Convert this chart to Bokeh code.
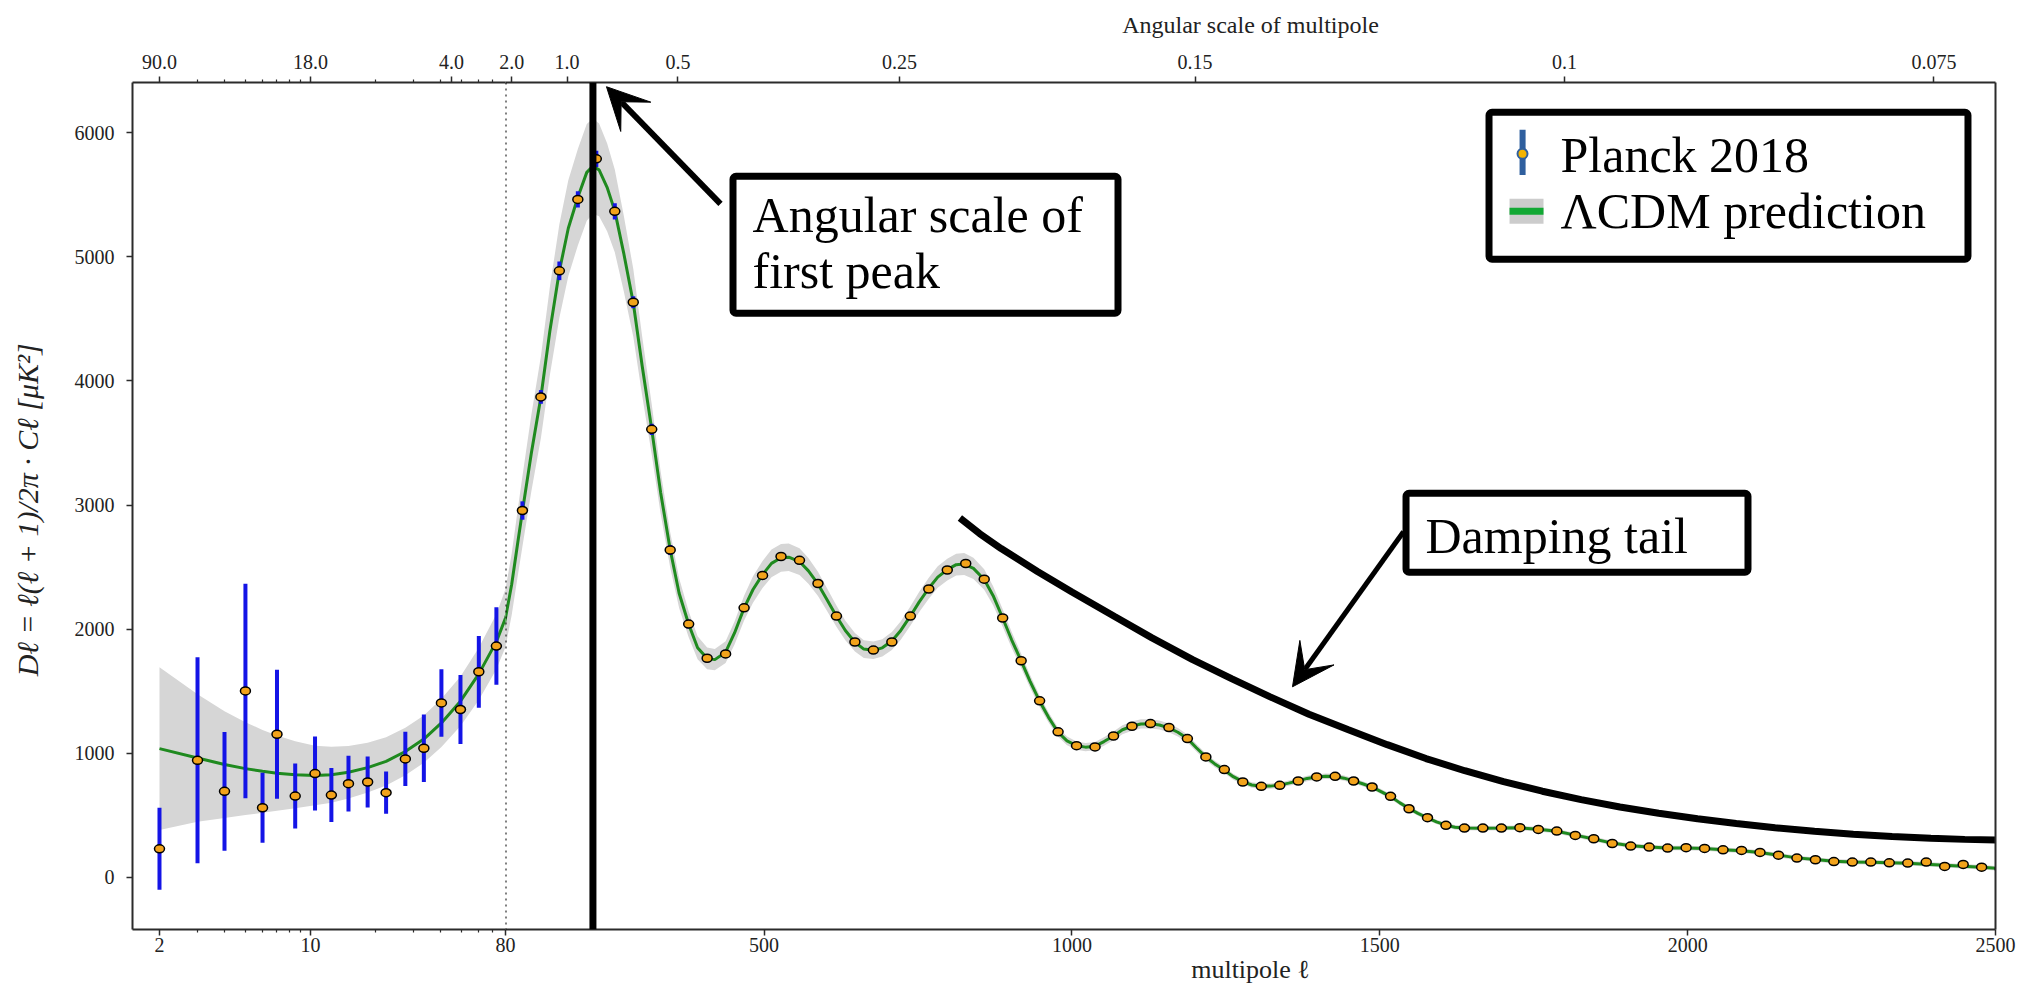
import numpy as np
from bokeh.plotting import figure
from bokeh.core.properties import value
from bokeh.models import (Range1d, FixedTicker, LinearAxis, LogAxis, Span,
                          Arrow, VeeHead, BoxAnnotation)
from bokeh.layouts import row
from bokeh.embed import file_html
from bokeh.resources import INLINE

FONT = "Liberation Serif"

# ---------------- data ----------------
lowl_ell = [2, 3, 4, 5, 6, 7, 8.5, 10.5, 12.5, 15.0, 18.4, 22.4, 27.5, 33.5, 40.4, 49.5, 60.2, 72.6]
lowl_dl = [231, 944, 694, 1503, 562, 1154, 656, 837, 664, 756, 769, 683, 955, 1041, 1406, 1353, 1657, 1864]
lowl_err = [330, 830, 478, 864, 282, 520, 262, 298, 218, 225, 205, 170, 218, 272, 272, 278, 289, 312]

highl_ell = [107.5, 137.5, 167.5, 197.5, 227.5, 257.5, 287.5, 317.5, 347.5, 377.5,
             407.5, 437.5, 467.5, 497.5, 527.5, 557.5, 587.5, 617.5, 647.5, 677.5,
             707.5, 737.5, 767.5, 797.5, 827.5, 857.5, 887.5, 917.5, 947.5, 977.5,
             1007.5, 1037.5, 1067.5, 1097.5, 1127.5, 1157.5, 1187.5, 1217.5, 1247.5, 1277.5,
             1307.5, 1337.5, 1367.5, 1397.5, 1427.5, 1457.5, 1487.5, 1517.5, 1547.5, 1577.5,
             1607.5, 1637.5, 1667.5, 1697.5, 1727.5, 1757.5, 1787.5, 1817.5, 1847.5, 1877.5,
             1907.5, 1937.5, 1967.5, 1997.5, 2027.5, 2057.5, 2087.5, 2117.5, 2147.5, 2177.5,
             2207.5, 2237.5, 2267.5, 2297.5, 2327.5, 2357.5, 2387.5, 2417.5, 2447.5, 2477.5,
             2507.5]
highl_dl = [2956, 3871, 4887, 5462, 5789, 5366, 4634, 3610, 2638, 2041,
            1766, 1801, 2172, 2433, 2586, 2555, 2368, 2106, 1897, 1832,
            1897, 2106, 2324, 2477, 2529, 2403, 2090, 1746, 1423, 1173,
            1062, 1052, 1140, 1218, 1240, 1208, 1119, 971, 869, 769,
            734, 742, 777, 810, 815, 777, 729, 654, 554, 482,
            420, 398, 398, 398, 401, 387, 374, 339, 312, 274,
            253, 245, 237, 240, 234, 223, 218, 202, 180, 156,
            143, 128, 124, 124, 118, 116, 124, 89, 105, 83,
            70]
highl_err = [74, 55, 75, 65, 65, 65, 48, 45, 40, 35,
             33, 33, 33, 33, 33, 33, 32, 30, 30, 30,
             30, 30, 30, 30, 30, 30, 28, 26, 24, 22,
             20, 20, 20, 20, 20, 20, 19, 18, 17, 16,
             16, 16, 16, 16, 16, 16, 16, 15, 15, 15,
             15, 15, 15, 15, 15, 15, 15, 15, 15, 15,
             15, 15, 15, 15, 16, 16, 16, 17, 17, 18,
             18, 19, 19, 20, 20, 21, 22, 23, 24, 25,
             26]

model_ell = [2, 3, 4, 5, 6, 7, 8.5, 10.5, 12.5, 15, 18.4, 22.4, 27.5, 33.5, 40.4, 49.5, 60.2, 72.6,
             80, 90, 100, 107.5, 122, 137.5, 152, 167.5, 182, 197.5, 212, 222, 232, 245, 257.5,
             272, 287.5, 302, 317.5, 332, 347.5, 362, 377.5, 392, 407.5, 420, 437.5, 452, 467.5,
             482, 497.5, 512, 527.5, 540, 557.5, 572, 587.5, 602, 617.5, 632, 647.5, 662, 677.5,
             692, 707.5, 722, 737.5, 752, 767.5, 782, 797.5, 812, 825, 840, 857.5, 872, 887.5,
             902, 917.5, 932, 947.5, 962, 977.5, 992, 1007.5, 1022, 1037.5, 1052, 1067.5, 1082,
             1097.5, 1112, 1127.5, 1142, 1157.5, 1172, 1187.5, 1202, 1217.5, 1232, 1247.5, 1262,
             1277.5, 1292, 1307.5, 1322, 1337.5, 1352, 1367.5, 1382, 1397.5, 1412, 1427.5, 1442,
             1457.5, 1472, 1487.5, 1502, 1517.5, 1532, 1547.5, 1562, 1577.5, 1592, 1607.5, 1622,
             1637.5, 1667.5, 1697.5, 1727.5, 1757.5, 1787.5, 1817.5, 1847.5, 1877.5, 1907.5,
             1937.5, 1967.5, 1997.5, 2027.5, 2057.5, 2087.5, 2117.5, 2147.5, 2177.5, 2207.5,
             2237.5, 2267.5, 2297.5, 2327.5, 2357.5, 2387.5, 2417.5, 2447.5, 2477.5, 2510]
model_dl = [1038, 962, 910, 877, 855, 840, 828, 822, 828, 848, 885, 935, 1015, 1115, 1245, 1420, 1640, 1900,
            2090, 2360, 2700, 2950, 3420, 3870, 4400, 4885, 5230, 5480, 5680, 5730, 5700, 5560, 5370,
            5030, 4630, 4120, 3610, 3100, 2640, 2290, 2040, 1850, 1765, 1755, 1815, 1970, 2170,
            2320, 2440, 2530, 2575, 2580, 2545, 2470, 2365, 2240, 2105, 1990, 1895, 1840, 1830,
            1850, 1905, 1990, 2105, 2220, 2330, 2420, 2480, 2520, 2525, 2490, 2400, 2270, 2090,
            1915, 1745, 1580, 1420, 1290, 1170, 1100, 1062, 1050, 1058, 1095, 1140, 1190,
            1220, 1237, 1238, 1228, 1205, 1170, 1119, 1045, 971, 915, 865, 812,
            772, 745, 735, 736, 744, 760, 778, 798, 810, 816, 814, 800,
            778, 755, 728, 692, 652, 603, 556, 516, 480, 448, 422, 405,
            399, 397, 398, 400, 388, 372, 341, 310, 277, 255,
            245, 238, 238, 233, 224, 216, 201, 180, 158, 144,
            131, 125, 122, 118, 114, 107, 98, 91, 82, 72]
model_hw = [655, 514, 430, 374, 334, 303, 270, 240, 225, 212, 200, 195, 192, 190, 194, 200, 210, 222,
            233, 248, 268, 283, 308, 329, 355, 377, 386, 389, 390, 384, 374, 355, 334,
            305, 273, 237, 203, 170, 142, 120, 105, 93, 87, 85, 87, 93, 100,
            106, 109, 112, 112, 111, 108, 103, 98, 91, 85, 79, 74, 72, 70,
            70, 72, 74, 77, 81, 84, 87, 88, 88, 88, 86, 82, 77, 70,
            64, 58, 52, 46, 42, 37, 35, 33, 33, 33, 34, 35, 36,
            37, 37, 37, 36, 35, 34, 32, 30, 28, 26, 25, 24,
            23, 22, 22, 22, 22, 22, 22, 22, 22, 22, 22, 21,
            21, 20, 20, 20, 20, 19, 19, 19, 18, 18, 18, 18,
            18, 18, 18, 18, 18, 18, 18, 18, 18, 18,
            18, 18, 18, 18, 18, 18, 18, 18, 18, 18,
            18, 18, 18, 18, 18, 18, 18, 18, 18, 18]

# axis ticks
lowl_ticks = [2, 10, 80]
lowl_minor = [3, 4, 5, 6, 7, 8, 9, 20, 30, 40, 50, 60, 70]
highl_ticks = [500, 1000, 1500, 2000, 2500]
y_ticks = [0, 1000, 2000, 3000, 4000, 5000, 6000]
ang_low_ell = [2, 10, 45]
ang_low_lab = ["90.0", "18.0", "4.0"]
ang_high_ell = [90, 180, 360, 720, 1200, 1800, 2400]
ang_high_lab = ["2.0", "1.0", "0.5", "0.25", "0.15", "0.1", "0.075"]

# annotation anchors (data units)
split_ell = 80
first_peak_ell = 222
damp_ell = [818, 850, 885, 944, 1000, 1070, 1130, 1196, 1260, 1322, 1385, 1449, 1512, 1575, 1638,
            1701, 1764, 1827, 1890, 1953, 2016, 2079, 2142, 2206, 2269, 2332, 2395, 2450, 2510]
damp_dl = [2895, 2770, 2650, 2465, 2300, 2100, 1930, 1755, 1600, 1455, 1315, 1190, 1070, 958, 860,
           772, 695, 627, 568, 518, 473, 435, 400, 372, 349, 330, 316, 307, 301]
note_text = ["Angular scale of", "first peak", "Damping tail", "Planck 2018", "ΛCDM prediction"]
note_x = [481.2, 481.2, 1574.2, 1793.5, 1793.5]
note_y = [5333, 4882, 2748, 5817, 5365]

# ---------------- styling helpers ----------------
AX = "#2b2b2b"


def style_axis(ax, label_size="20px"):
    ax.axis_line_color = AX
    ax.axis_line_width = 2
    ax.major_tick_line_color = AX
    ax.minor_tick_line_color = AX
    ax.major_tick_line_width = 1.5
    ax.minor_tick_line_width = 1.2
    ax.major_tick_in = 0
    ax.major_tick_out = 6
    ax.minor_tick_in = 0
    ax.minor_tick_out = 3
    ax.major_label_text_font = FONT
    ax.major_label_text_font_size = label_size
    ax.major_label_text_color = "#222222"
    ax.axis_label_text_font = FONT
    ax.axis_label_text_font_style = "normal"
    ax.axis_label_text_color = "#222222"


y_range = Range1d(-419, 6404)
common = dict(height=988, y_range=y_range, toolbar_location=None, output_backend="svg",
              x_axis_location=None, y_axis_location=None, min_border_top=82,
              min_border_bottom=59, outline_line_color=None,
              background_fill_color=None, border_fill_color=None)

# ---------------- left (log) panel ----------------
left = figure(width=525, x_axis_type="log", x_range=Range1d(1.5, split_ell),
              min_border_left=132, min_border_right=20, **common)
left.xgrid.visible = False
left.ygrid.visible = False

yax = LinearAxis(ticker=FixedTicker(ticks=y_ticks, minor_ticks=[]),
                 axis_label="Dℓ = ℓ(ℓ + 1)/2π · Cℓ  [μK²]")
style_axis(yax)
yax.major_label_standoff = 12
yax.axis_label_standoff = 28
yax.axis_label_text_font_size = "30px"
yax.axis_label_text_font_style = "italic"
left.add_layout(yax, "left")

bl = LogAxis(ticker=FixedTicker(ticks=lowl_ticks, minor_ticks=lowl_minor),
             major_label_overrides={t: str(t) for t in lowl_ticks}, axis_label=" ")
style_axis(bl)
bl.major_label_standoff = 2
bl.axis_label_standoff = 0
bl.axis_label_text_font_size = "26px"
left.add_layout(bl, "below")

tl = LogAxis(ticker=FixedTicker(ticks=ang_low_ell, minor_ticks=lowl_minor),
             major_label_overrides=dict(zip(ang_low_ell, ang_low_lab)))
style_axis(tl)
tl.major_label_standoff = 8
left.add_layout(tl, "above")

m_lo = np.array(model_dl) - np.array(model_hw)
m_hi = np.array(model_dl) + np.array(model_hw)

left.varea(x=model_ell, y1=m_lo, y2=m_hi, fill_color="#d6d6d6")
left.line(model_ell, model_dl, line_color="#1f8a1f", line_width=3)
left.segment(x0=lowl_ell, x1=lowl_ell, y0=np.array(lowl_dl) - np.array(lowl_err),
             y1=np.array(lowl_dl) + np.array(lowl_err), line_color="#1414e6", line_width=4)
left.ellipse(x=lowl_ell, y=lowl_dl, width=10, height=8, width_units="screen",
             height_units="screen", fill_color="#f2a31b", line_color="black", line_width=1.5)

# ---------------- right (linear) panel ----------------
right = figure(width=1546, x_range=Range1d(split_ell, 2500),
               min_border_left=20, min_border_right=36, margin=(0, 0, 0, -40), **common)
right.xgrid.visible = False
right.ygrid.visible = False

br = LinearAxis(ticker=FixedTicker(ticks=highl_ticks, minor_ticks=[]), axis_label="multipole ℓ")
style_axis(br)
br.major_label_standoff = 2
br.axis_label_standoff = 0
br.axis_label_text_font_size = "26px"
right.add_layout(br, "below")

tr = LinearAxis(ticker=FixedTicker(ticks=ang_high_ell, minor_ticks=[]),
                major_label_overrides=dict(zip(ang_high_ell, ang_high_lab)),
                axis_label="Angular scale of multipole")
style_axis(tr)
tr.major_label_standoff = 8
tr.axis_label_standoff = 14
tr.axis_label_text_font_size = "24px"
right.add_layout(tr, "above")

rr = LinearAxis(ticker=FixedTicker(ticks=[], minor_ticks=[]))
style_axis(rr)
rr.major_tick_out = 0
rr.minor_tick_out = 0
right.add_layout(rr, "right")

right.varea(x=model_ell, y1=m_lo, y2=m_hi, fill_color="#d6d6d6")
right.line(model_ell, model_dl, line_color="#1f8a1f", line_width=3)
right.segment(x0=highl_ell, x1=highl_ell, y0=np.array(highl_dl) - np.array(highl_err),
              y1=np.array(highl_dl) + np.array(highl_err), line_color="#1414e6", line_width=4)
right.ellipse(x=highl_ell, y=highl_dl, width=10, height=8, width_units="screen",
              height_units="screen", fill_color="#f2a31b", line_color="black", line_width=1.5)

right.add_layout(Span(location=split_ell, dimension="height", line_color="black",
                      line_width=2, line_dash="2 4"))
right.add_layout(Span(location=first_peak_ell, dimension="height", line_color="black",
                      line_width=7))

# damping tail curve
right.line(damp_ell, damp_dl, line_color="black", line_width=7)


# annotation boxes
def text_box(l, r, t, b):
    right.add_layout(BoxAnnotation(left=l, right=r, top=t, bottom=b, fill_color="white",
                                   fill_alpha=1, line_color="black", line_alpha=1,
                                   line_width=7, border_radius=3))


text_box(449.5, 1074.8, 5649, 4545)
right.add_layout(Arrow(end=VeeHead(size=42, fill_color="black", line_color="black"),
                       x_start=429.2, y_start=5427, x_end=244, y_end=6370,
                       line_color="black", line_width=6))

text_box(1542.6, 2098, 3095, 2459)
right.add_layout(Arrow(end=VeeHead(size=42, fill_color="black", line_color="black"),
                       x_start=1538.5, y_start=2785, x_end=1358.2, y_end=1536,
                       line_color="black", line_width=5))

# legend (drawn as annotations)
text_box(1677.4, 2455.3, 6164, 4980)
right.add_layout(BoxAnnotation(left=1727, right=1736.8, top=6023, bottom=5659,
                               fill_color="#2f5f9e", fill_alpha=1, line_color=None))
right.add_layout(BoxAnnotation(left=1723.7, right=1739.9, top=5870, bottom=5789,
                               fill_color="#f5b400", fill_alpha=1, line_color="#2f5f9e",
                               line_alpha=1, line_width=2, border_radius=5))
right.add_layout(BoxAnnotation(left=1710.7, right=1765.9, top=5467, bottom=5266,
                               fill_color="#cccccc", fill_alpha=1, line_color=None))
right.add_layout(BoxAnnotation(left=1710.7, right=1765.9, top=5395, bottom=5339,
                               fill_color="#12a834", fill_alpha=1, line_color=None))

# texts of the notes and legend (text glyph, drawn above the boxes)
right.text(x=note_x, y=note_y, text=note_text, text_font=value(FONT), text_font_size="50px",
           text_color="black", text_align="left", text_baseline="alphabetic", level="overlay")

layout = row(left, right)
open("out.html", "w").write(file_html(layout, INLINE))
